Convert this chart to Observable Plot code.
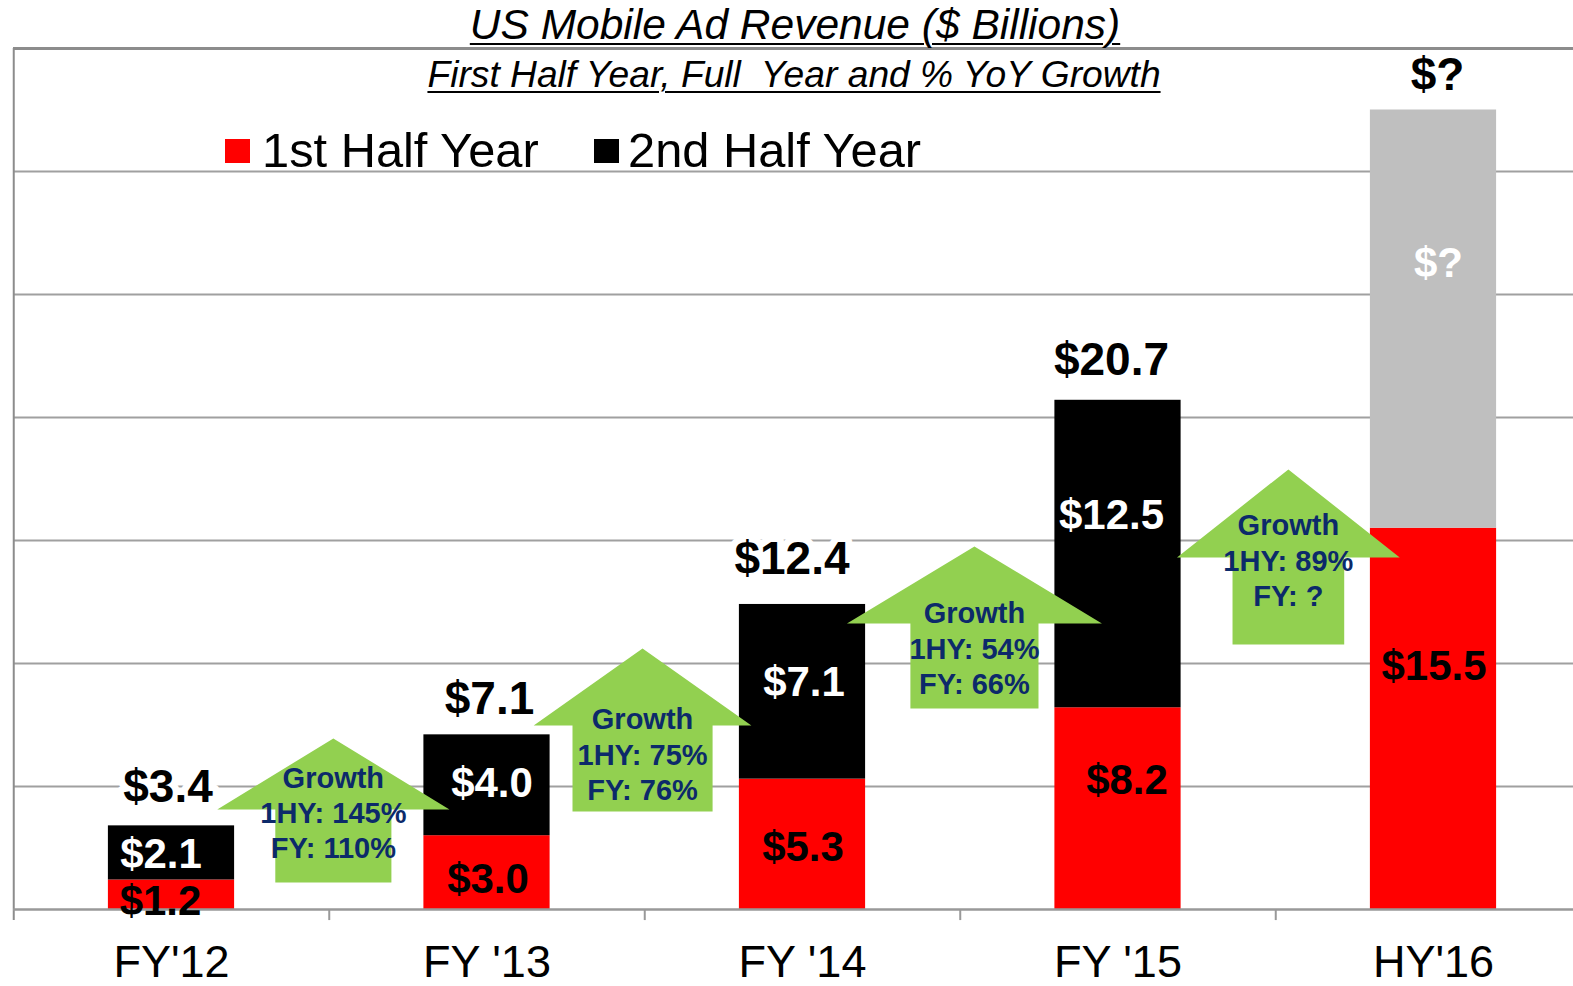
<!DOCTYPE html>
<html>
<head>
<meta charset="utf-8">
<script src="https://cdn.jsdelivr.net/npm/d3@7"></script>
<script src="https://cdn.jsdelivr.net/npm/@observablehq/plot@0.6"></script>
<style>
  body { margin: 0; background: #fff; font-family: "Liberation Sans", Arial, sans-serif; }
  #wrap { position: relative; width: 1573px; height: 986px; overflow: hidden; background: #fff; }
  #wrap svg { position: absolute; left: 0; top: 0; }
  .ttl { position: absolute; white-space: pre; font-style: italic; text-decoration: underline;
         text-decoration-thickness: 2px; text-underline-offset: 4px; color: #000; line-height: 1; transform: translateX(-50%); }
  .leg { position: absolute; white-space: pre; line-height: 1; color: #000; font-size: 48.8px; }
  .sw { position: absolute; width: 25px; height: 24px; }
</style>
</head>
<body>
<div id="wrap">
  <div class="ttl" id="title" style="left:795px; top:4px; font-size:42.5px;"></div>
  <div class="ttl" id="subtitle" style="left:794px; top:56px; font-size:37.2px;"></div>
  <div class="sw" style="left:225px; top:139px; background:#ff0000;"></div>
  <div class="leg" id="leg1" style="left:262px; top:126px;"></div>
  <div class="sw" style="left:594px; top:139px; background:#000000;"></div>
  <div class="leg" id="leg2" style="left:628px; top:126px;"></div>
</div>
<script>
// ---------------- data ----------------
const categories = ["FY'12", "FY '13", "FY '14", "FY '15", "HY'16"];
const firstHalf  = [1.2, 3.0, 5.3, 8.2, 15.5];
const secondHalf = [2.1, 4.0, 7.1, 12.5, null];
const fullYear   = [3.4, 7.1, 12.4, 20.7, null];
const hy16FullYearPlaceholder = 32.5;      // grey "$?" bar top (unknown full year)
const growthFirstHalf = ["145%", "75%", "54%", "89%"];
const growthFullYear  = ["110%", "76%", "66%", "?"];
const gridValues = [5, 10, 15, 20, 25, 30, 35];
const seriesNames = ["1st Half Year", "2nd Half Year"];
const titleText = "US Mobile Ad Revenue ($ Billions)";
const subtitleText = "First Half Year, Full  Year and % YoY Growth";

// ---------------- layout (annotation geometry, in data units) ----------------
const barHalf = 0.2;
const arrowLayout = [
  {cx: 0.513, tip: 6.95,  base: 4.07,  bottom: 1.10,  head: 0.368, shaft: 0.184, text: 3.98},
  {cx: 1.493, tip: 10.61, base: 7.48,  bottom: 3.98,  head: 0.345, shaft: 0.222, text: 6.34},
  {cx: 2.545, tip: 14.76, base: 11.63, bottom: 8.17,  head: 0.404, shaft: 0.203, text: 10.65},
  {cx: 3.540, tip: 17.89, base: 14.31, bottom: 10.77, head: 0.353, shaft: 0.177, text: 14.23}
];
const firstNudge  = [{dx: -11, dy: 7}, {dx: 1, dy: 7}, {dx: 0.5, dy: 3}, {dx: 9, dy: -28}, {dx: 0.5, dy: -52}];
const secondNudge = [{dx: -10.5, dy: 2}, {dx: 5, dy: -2}, {dx: 1.5, dy: -9}, {dx: -6.5, dy: -38.5}, {dx: 5, dy: -56}];
const totalNudge  = [{dx: -3.5, dy: -39}, {dx: 2.5, dy: -36}, {dx: -10.5, dy: -45.5}, {dx: -6.5, dy: -40}, {dx: 4, dy: -34.5}];

// ---------------- build tables ----------------
const rows = categories.map((c, i) => ({
  i, c,
  h1: firstHalf[i],
  h2: secondHalf[i],
  top: fullYear[i] != null ? fullYear[i] : hy16FullYearPlaceholder,
  known: fullYear[i] != null
}));
const fmt = v => v == null ? "$?" : "$" + v.toFixed(1);

const arrowPts = [];
arrowLayout.forEach((a, k) => {
  const pts = [
    [a.cx, a.tip], [a.cx + a.head, a.base], [a.cx + a.shaft, a.base], [a.cx + a.shaft, a.bottom],
    [a.cx - a.shaft, a.bottom], [a.cx - a.shaft, a.base], [a.cx - a.head, a.base], [a.cx, a.tip]
  ];
  pts.forEach(([x, y]) => arrowPts.push({k, x, y}));
});
const arrowText = arrowLayout.map((a, k) => ({
  x: a.cx, y: a.text,
  label: `Growth\n1HY: ${growthFirstHalf[k]}\nFY: ${growthFullYear[k]}`
}));

const FONT = "Liberation Sans, Arial, sans-serif";
const marks = [
  Plot.ruleY(gridValues.slice(0, -1), {y: d => d, stroke: "#a0a0a0", strokeWidth: 2}),
  // bars
  Plot.rectY(rows, {x1: d => d.i - barHalf, x2: d => d.i + barHalf, y1: 0, y2: "h1", fill: "#ff0000"}),
  Plot.rectY(rows.filter(d => d.known), {x1: d => d.i - barHalf, x2: d => d.i + barHalf, y1: "h1", y2: "top", fill: "#000000"}),
  Plot.rectY(rows.filter(d => !d.known), {x1: d => d.i - barHalf, x2: d => d.i + barHalf, y1: "h1", y2: "top", fill: "#bfbfbf"}),
  // frame
  Plot.ruleX([-0.5], {y1: -0.45, y2: 35, stroke: "#8c8c8c", strokeWidth: 2}),
  Plot.ruleY([0], {stroke: "#999999", strokeWidth: 2.5}),
  Plot.ruleX([0.5, 1.5, 2.5, 3.5], {x: d => d, y1: -0.45, y2: 0, stroke: "#999999", strokeWidth: 2}),
  // growth arrows
  Plot.line(arrowPts, {x: "x", y: "y", z: "k", fill: "#92d050", stroke: "none", curve: "linear"}),
  Plot.text(arrowText, {x: "x", y: "y", text: "label", fontSize: 29, fontWeight: "bold",
    fill: "#0c2a6a", lineHeight: 1.22, fontFamily: FONT}),
  // category labels
  Plot.text(rows, {x: "i", text: "c", frameAnchor: "bottom", lineAnchor: "middle", dy: 53, fontSize: 45,
    fill: "#000", fontFamily: FONT})
];

rows.forEach(r => {
  // first-half segment label (black)
  marks.push(Plot.text([r], {x: "i", y: d => d.h1 / 2, text: d => fmt(d.h1), fontSize: 42, fontWeight: "bold",
    fill: "#000", fontFamily: FONT, dx: firstNudge[r.i].dx, dy: firstNudge[r.i].dy}));
  // second-half segment label (white)
  marks.push(Plot.text([r], {x: "i", y: d => (d.h1 + d.top) / 2, text: d => fmt(d.h2), fontSize: 42, fontWeight: "bold",
    fill: "#fff", fontFamily: FONT, dx: secondNudge[r.i].dx, dy: secondNudge[r.i].dy}));
  // full-year total label
  marks.push(Plot.text([r], {x: "i", y: "top", text: d => d.known ? fmt(d.top) : "$?", fontSize: 46, fontWeight: "bold",
    fill: "#000", stroke: "#fff", strokeWidth: 14, fontFamily: FONT, dx: totalNudge[r.i].dx, dy: totalNudge[r.i].dy}));
});
// top frame line drawn last so label halos do not cut it
marks.push(Plot.ruleY([35], {stroke: "#8c8c8c", strokeWidth: 3}));

const chart = Plot.plot({
  width: 1573,
  height: 986,
  marginTop: 48,
  marginBottom: 77,
  marginLeft: 13,
  marginRight: 0,
  x: {type: "linear", domain: [-0.5, 4.5], range: [13.25, 1590.75], axis: null},
  y: {type: "linear", domain: [0, 35], axis: null},
  style: {background: "white", fontFamily: FONT, overflow: "hidden"},
  marks
});

const wrap = document.getElementById("wrap");
wrap.insertBefore(chart, wrap.firstChild);
document.getElementById("title").textContent = titleText;
document.getElementById("subtitle").textContent = subtitleText;
document.getElementById("leg1").textContent = seriesNames[0];
document.getElementById("leg2").textContent = seriesNames[1];
</script>
</body>
</html>
